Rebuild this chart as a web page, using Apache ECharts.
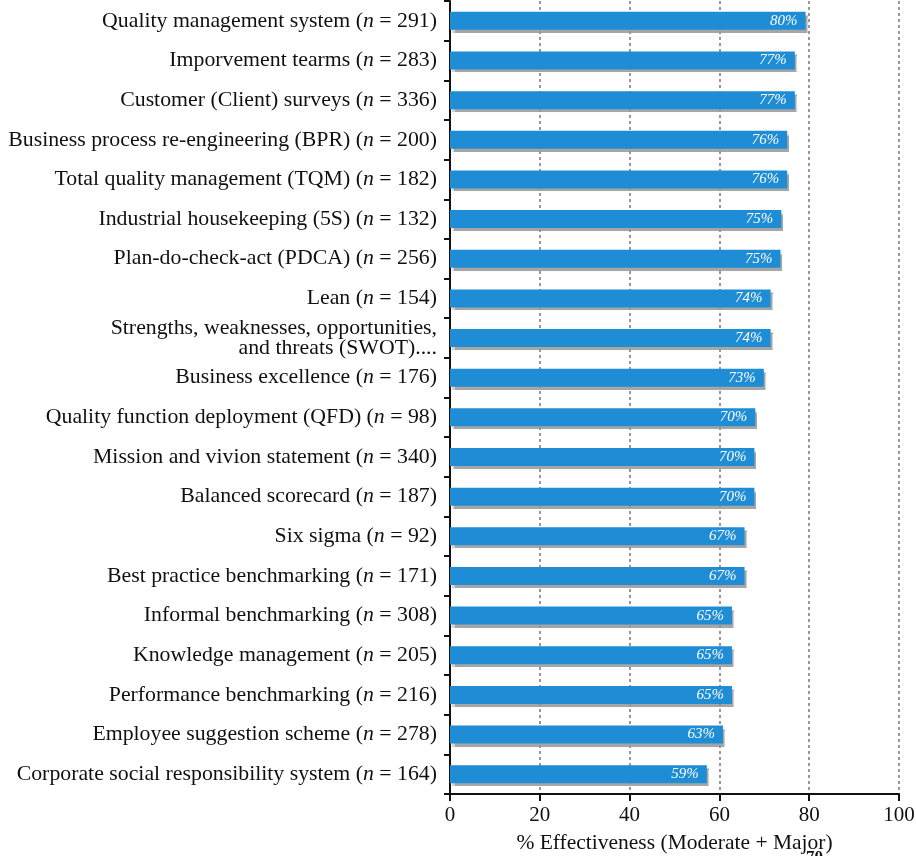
<!DOCTYPE html>
<html><head><meta charset="utf-8">
<script src="https://cdn.jsdelivr.net/npm/echarts@6/dist/echarts.min.js"></script>
<style>html,body{margin:0;padding:0;background:#fff}#c{width:916px;height:856px}</style>
</head><body><div id="c"></div>
<script>
var categories = [
  "Quality management system","Imporvement tearms","Customer (Client) surveys",
  "Business process re-engineering (BPR)","Total quality management (TQM)",
  "Industrial housekeeping (5S)","Plan-do-check-act (PDCA)","Lean",
  "Strengths, weaknesses, opportunities,\nand threats (SWOT)....","Business excellence",
  "Quality function deployment (QFD)","Mission and vivion statement","Balanced scorecard",
  "Six sigma","Best practice benchmarking","Informal benchmarking","Knowledge management",
  "Performance benchmarking","Employee suggestion scheme","Corporate social responsibility system"
];
var nValues = [291,283,336,200,182,132,256,154,null,176,98,340,187,92,171,308,205,216,278,164];
var barValues = [79.2,76.8,76.8,75.1,75.1,73.8,73.6,71.4,71.4,69.9,68.0,67.8,67.8,65.6,65.6,62.8,62.8,62.8,60.8,57.2];
var percentLabels = ["80%","77%","77%","76%","76%","75%","75%","74%","74%","73%","70%","70%","70%","67%","67%","65%","65%","65%","63%","59%"];
var xTicks = [0,20,40,60,80,100];

var chart = echarts.init(document.getElementById('c'), null, {renderer:'canvas'});
var serif = "'Liberation Serif','DejaVu Serif',serif";
chart.setOption({
  animation:false,
  grid:{left:450,right:17,top:1,bottom:62,containLabel:false,outerBoundsMode:'none'},
  xAxis:{
    type:'value', min:xTicks[0], max:xTicks[xTicks.length-1], interval:20,
    name:'% Effectiveness (Moderate + Major)', nameLocation:'middle', nameGap:38,
    nameTextStyle:{fontFamily:serif,fontSize:21.5,color:'#111'},
    axisLine:{show:true,lineStyle:{color:'#111',width:2}},
    axisTick:{show:true,length:7,lineStyle:{color:'#111',width:2}},
    axisLabel:{fontFamily:serif,fontSize:21,color:'#111',margin:11},
    splitLine:{show:true,lineStyle:{color:'#777',type:[3,3],width:1.5}}
  },
  yAxis:{
    type:'category', inverse:true, data:categories,
    axisLine:{show:true,lineStyle:{color:'#111',width:2}},
    axisTick:{show:true,length:6,lineStyle:{color:'#111',width:2}},
    axisLabel:{
      fontFamily:serif,fontSize:21.8,color:'#111',margin:13,lineHeight:20,align:'right',
      formatter:function(v,i){
        var n=nValues[i];
        if(n===null) return v;
        return v+' ({i|n} = '+n+')';
      },
      rich:{i:{fontFamily:serif,fontSize:21.8,fontStyle:'italic',color:'#111'}}
    },
    splitLine:{show:false}
  },
  series:[{
    type:'bar', data:barValues, barWidth:18,
    itemStyle:{color:'#1f8dd6',shadowColor:'rgba(150,150,150,0.85)',shadowBlur:1,shadowOffsetX:2,shadowOffsetY:3},
    label:{show:true,position:'insideRight',distance:8,color:'#fff',fontFamily:serif,fontSize:15,fontStyle:'italic',
      formatter:function(p){return percentLabels[p.dataIndex];}}
  }],
  graphic:[{type:'text',left:806,top:849,style:{text:'70',font:"bold 17px 'Liberation Serif',serif",fill:'#111'}}]
});
</script></body></html>
